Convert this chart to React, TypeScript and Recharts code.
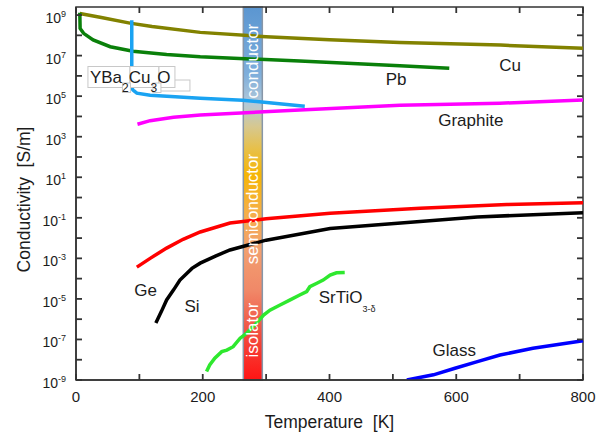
import React from 'react';
import { LineChart, Line, XAxis, YAxis, ReferenceArea, ReferenceDot, Label } from 'recharts';

// [temperature in K, conductivity in S/m]
type Point = [number, number];

const copper: Point[] = [[6, 1.2e9], [40, 7.6e8], [85, 4.0e8], [120, 2.7e8], [196, 1.4e8], [300, 8.5e7], [400, 6.0e7], [511, 4.4e7], [670, 3.3e7], [800, 2.3e7]];
const lead: Point[] = [[6, 1.3e9], [6.5, 2.2e8], [12, 1.26e8], [27, 5.9e7], [54, 2.75e7], [90, 1.66e7], [143, 1.15e7], [196, 8.7e6], [353, 5.4e6], [511, 3.2e6], [589, 2.35e6]];
const ybco: Point[] = [[88, 5.6e8], [88, 2.5e5], [90, 2.0e5], [96, 1.4e5], [117, 1.1e5], [196, 7.8e4], [263, 6.3e4], [293, 5.2e4], [361, 3.2e4]];
const graphite: Point[] = [[97, 4.1e3], [117, 6.2e3], [154, 9.1e3], [196, 1.17e4], [353, 2.1e4], [511, 3.6e4], [669, 4.5e4], [800, 6.5e4]];
const germanium: Point[] = [[96, 3.7e-4], [117, 1.0e-3], [143, 3.2e-3], [169, 8.7e-3], [196, 2.0e-2], [243, 5.5e-2], [300, 9.0e-2], [401, 0.17], [543, 0.30], [680, 0.45], [800, 0.56]];
const silicon: Point[] = [[126, 6.5e-7], [135, 2.5e-6], [143, 8.9e-6], [154, 2.8e-5], [164, 8.5e-5], [183, 3.2e-4], [196, 5.8e-4], [220, 1.3e-3], [243, 2.6e-3], [300, 7.9e-3], [401, 3.0e-2], [543, 6.5e-2], [633, 0.11], [800, 0.18]];
const strontiumTitanate: Point[] = [[206, 2.6e-9], [211, 5.5e-9], [219, 1.2e-8], [230, 2.5e-8], [238, 3.0e-8], [248, 4.4e-8], [259, 1.15e-7], [269, 2.0e-7], [282, 5.1e-7], [296, 1.6e-6], [306, 2.8e-6], [322, 5.0e-6], [338, 8.9e-6], [353, 1.55e-5], [364, 2.3e-5], [369, 4.0e-5], [380, 5.9e-5], [390, 8.5e-5], [401, 1.5e-4], [411, 1.95e-4], [424, 2.0e-4]];
const glass: Point[] = [[522, 1.0e-9], [564, 1.8e-9], [598, 3.8e-9], [632, 7.9e-9], [669, 1.7e-8], [721, 3.7e-8], [800, 8.7e-8]];

const temperatureTicks = [0, 100, 200, 300, 400, 500, 600, 700, 800];
const temperatureLabels = [0, 200, 400, 600, 800];
const conductivityTicks = [1e-9, 1e-8, 1e-7, 1e-6, 1e-5, 1e-4, 1e-3, 1e-2, 1e-1, 1, 1e1, 1e2, 1e3, 1e4, 1e5, 1e6, 1e7, 1e8, 1e9];
const temperatureDomain = [0, 800];
const conductivityDomain = [1e-9, 2.5e9];

// Band around room temperature
const roomBand = { from: 264, to: 294 };
const bandWords = [
  { text: 'conductor', T: 279, s: 5.4e6 },
  { text: 'semiconductor', T: 279, s: 0.27 },
  { text: 'isolator', T: 279, s: 2.9e-7 },
];

const curveNames = [
  { text: 'Cu', T: 685, s: 3.4e6 },
  { text: 'Pb', T: 505, s: 6.9e5 },
  { text: 'Graphite', T: 623, s: 6.6e3 },
  { text: 'Ge', T: 110, s: 2.5e-5 },
  { text: 'Si', T: 183, s: 4.0e-6 },
  { text: 'Glass', T: 597, s: 3.0e-8 },
];
const srTiOName = { T: 383, s: 1.26e-5 };
const ybcoName = { T: 22, s: 8.8e5 };

const FONT = '"Liberation Sans", Arial, Helvetica, sans-serif';
const AXIS = '#333333';
const TEXT = '#1c1c1c';
const TICK_LEN = 6;
const TICK_W = 1.8;

const behindBand = [
  { key: 'Cu', data: copper, color: '#828200' },
  { key: 'Pb', data: lead, color: '#0a800a' },
  { key: 'YBCO', data: ybco, color: '#1aa3f2' },
];
const frontOfBand = [
  { key: 'Graphite', data: graphite, color: '#ff00ff' },
  { key: 'Ge', data: germanium, color: '#ff0000' },
  { key: 'Si', data: silicon, color: '#000000' },
  { key: 'SrTiO', data: strontiumTitanate, color: '#2ee82e' },
  { key: 'Glass', data: glass, color: '#0000ff' },
];

const rows = (pts: Point[]) => pts.map(([T, s]) => ({ T, s }));

// Tick labels drawn outside the frame
const BottomLabel = (p: any) =>
  temperatureLabels.includes(p.payload.value) ? (
    <text x={p.x} y={Number(p.y) + 22} textAnchor="middle" fontSize={15} fontFamily={FONT} fill={TEXT}>
      {p.payload.value}
    </text>
  ) : (
    <g />
  );

const LeftLabel = (p: any) => {
  const exp = Math.round(Math.log10(p.payload.value));
  if (exp % 2 === 0) return <g />;
  return (
    <text x={Number(p.x) - 10} y={Number(p.y) + 8} textAnchor="end" fontSize={14} fontFamily={FONT} fill={TEXT}>
      <tspan>10</tspan>
      <tspan dy={-6} fontSize={9}>{exp}</tspan>
    </text>
  );
};

// Inward tick marks on all four sides of the frame
const tickMark = (dx: number, dy: number) => (p: any) => (
  <line x1={p.cx} y1={p.cy} x2={p.cx + dx} y2={p.cy + dy} stroke={AXIS} strokeWidth={TICK_W} />
);

const YTitle = (p: any) => {
  const vb = p.viewBox;
  const cx = vb.x + 24;
  const cy = vb.y + vb.height / 2 + 6;
  return (
    <text x={cx} y={cy} transform={`rotate(-90 ${cx} ${cy})`} textAnchor="middle" dominantBaseline="central" fontSize={17.5} fontFamily={FONT} fill={TEXT}>
      {'Conductivity\u00a0\u00a0[S/m]'}
    </text>
  );
};

const XTitle = (p: any) => {
  const vb = p.viewBox;
  return (
    <text x={vb.x + vb.width / 2} y={vb.y + 48} textAnchor="middle" fontSize={17.5} fontFamily={FONT} fill={TEXT}>
      {'Temperature\u00a0\u00a0[K]'}
    </text>
  );
};

const BandWord = (text: string) => (p: any) => (
  <text x={p.cx} y={p.cy} transform={`rotate(-90 ${p.cx} ${p.cy})`} textAnchor="middle" dominantBaseline="central" fontSize={17} fontFamily={FONT} fill="#ffffff">
    {text}
  </text>
);

const CurveName = (text: string) => (p: any) => (
  <text x={p.cx} y={p.cy} textAnchor="middle" dominantBaseline="central" fontSize={17} fontFamily={FONT} fill={TEXT}>
    {text}
  </text>
);

const SrTiOName = (p: any) => (
  <text x={p.cx} y={p.cy + 6} fontSize={17} fontFamily={FONT} fill={TEXT}>
    <tspan>SrTiO</tspan>
    <tspan dy={9} fontSize={9}>3-δ</tspan>
  </text>
);

const YbcoName = (p: any) => {
  const x = p.cx;
  const y = p.cy;
  const box = { fill: '#ffffff', stroke: '#c8c8c8', strokeWidth: 1 };
  return (
    <g>
      <rect x={x + 70} y={y + 3} width={30} height={11} {...box} />
      <rect x={x - 2} y={y - 10.5} width={42} height={21} {...box} />
      <rect x={x + 40} y={y - 10.5} width={29} height={21} {...box} />
      <rect x={x + 69} y={y - 10.5} width={16} height={21} {...box} />
      <rect x={x + 32.5} y={y + 6} width={8} height={9.5} {...box} />
      <rect x={x + 63} y={y + 6} width={8} height={9.5} {...box} />
      <text x={x} y={y + 6} fontSize={17} fontFamily={FONT} fill={TEXT}>
        <tspan>YBa</tspan>
        <tspan dy={9} fontSize={12}>2</tspan>
        <tspan dy={-9}>Cu</tspan>
        <tspan dy={9} fontSize={12}>3</tspan>
        <tspan dy={-9}>O</tspan>
      </text>
    </g>
  );
};

const seriesLine = (s: { key: string; data: Point[]; color: string }) => (
  <Line
    key={s.key}
    xAxisId="bottom"
    yAxisId="left"
    data={rows(s.data)}
    dataKey="s"
    type="linear"
    stroke={s.color}
    strokeWidth={3.5}
    dot={false}
    activeDot={false}
    isAnimationActive={false}
  />
);

const frameTick = (key: string, x: number, y: number, dx: number, dy: number) => (
  <ReferenceDot key={key} xAxisId="bottom" yAxisId="left" x={x} y={y} r={0} shape={tickMark(dx, dy)} ifOverflow="visible" />
);

export default function App() {
  return (
    <div style={{ position: 'absolute', left: 0, top: 0, background: '#ffffff' }}>
      <LineChart width={596} height={438} margin={{ top: 7, right: 13, bottom: 0, left: 0 }}>
        <defs>
          <linearGradient id="bandFill" x1="0" y1="0" x2="0" y2="1">
            <stop offset="0" stopColor="#5b96d1" />
            <stop offset="0.18" stopColor="#7eaedb" />
            <stop offset="0.26" stopColor="#b3c9d8" />
            <stop offset="0.32" stopColor="#d6c890" />
            <stop offset="0.38" stopColor="#e7c04a" />
            <stop offset="0.45" stopColor="#f6b505" />
            <stop offset="0.55" stopColor="#f5af48" />
            <stop offset="0.65" stopColor="#f2a070" />
            <stop offset="0.76" stopColor="#f08868" />
            <stop offset="0.86" stopColor="#f15545" />
            <stop offset="1" stopColor="#ff1414" />
          </linearGradient>
        </defs>
        <XAxis
          xAxisId="bottom"
          dataKey="T"
          type="number"
          domain={temperatureDomain}
          ticks={temperatureTicks}
          interval={0}
          height={58}
          tickLine={false}
          tickSize={0}
          tickMargin={0}
          tick={BottomLabel}
          axisLine={{ stroke: AXIS, strokeWidth: 1.5 }}
        >
          <Label content={XTitle} />
        </XAxis>
        <YAxis
          yAxisId="left"
          scale="log"
          type="number"
          domain={conductivityDomain}
          allowDataOverflow
          ticks={conductivityTicks}
          interval={0}
          width={76}
          tickLine={false}
          tickSize={0}
          tickMargin={0}
          tick={LeftLabel}
          axisLine={{ stroke: AXIS, strokeWidth: 1.5 }}
        >
          <Label content={YTitle} />
        </YAxis>

        {behindBand.map(seriesLine)}

        <ReferenceArea
          xAxisId="bottom"
          yAxisId="left"
          x1={roomBand.from}
          x2={roomBand.to}
          y1={conductivityDomain[0]}
          y2={conductivityDomain[1]}
          fill="url(#bandFill)"
          fillOpacity={1}
          stroke="#8796a8"
          strokeWidth={1.5}
          ifOverflow="visible"
        />

        {frontOfBand.map(seriesLine)}

        {/* plot frame */}
        <ReferenceArea
          xAxisId="bottom"
          yAxisId="left"
          x1={temperatureDomain[0]}
          x2={temperatureDomain[1]}
          y1={conductivityDomain[0]}
          y2={conductivityDomain[1]}
          fill="none"
          stroke={AXIS}
          strokeWidth={1.5}
          ifOverflow="visible"
        />
        {temperatureTicks.map((t) => frameTick(`b${t}`, t, conductivityDomain[0], 0, -TICK_LEN))}
        {temperatureTicks.map((t) => frameTick(`t${t}`, t, conductivityDomain[1], 0, TICK_LEN))}
        {conductivityTicks.map((c) => frameTick(`l${c}`, temperatureDomain[0], c, TICK_LEN, 0))}
        {conductivityTicks.map((c) => frameTick(`r${c}`, temperatureDomain[1], c, -TICK_LEN, 0))}

        {bandWords.map((w) => (
          <ReferenceDot key={w.text} xAxisId="bottom" yAxisId="left" x={w.T} y={w.s} r={0} shape={BandWord(w.text)} ifOverflow="visible" />
        ))}
        {curveNames.map((c) => (
          <ReferenceDot key={c.text} xAxisId="bottom" yAxisId="left" x={c.T} y={c.s} r={0} shape={CurveName(c.text)} ifOverflow="visible" />
        ))}
        <ReferenceDot xAxisId="bottom" yAxisId="left" x={srTiOName.T} y={srTiOName.s} r={0} shape={SrTiOName} ifOverflow="visible" />
        <ReferenceDot xAxisId="bottom" yAxisId="left" x={ybcoName.T} y={ybcoName.s} r={0} shape={YbcoName} ifOverflow="visible" />
      </LineChart>
    </div>
  );
}
